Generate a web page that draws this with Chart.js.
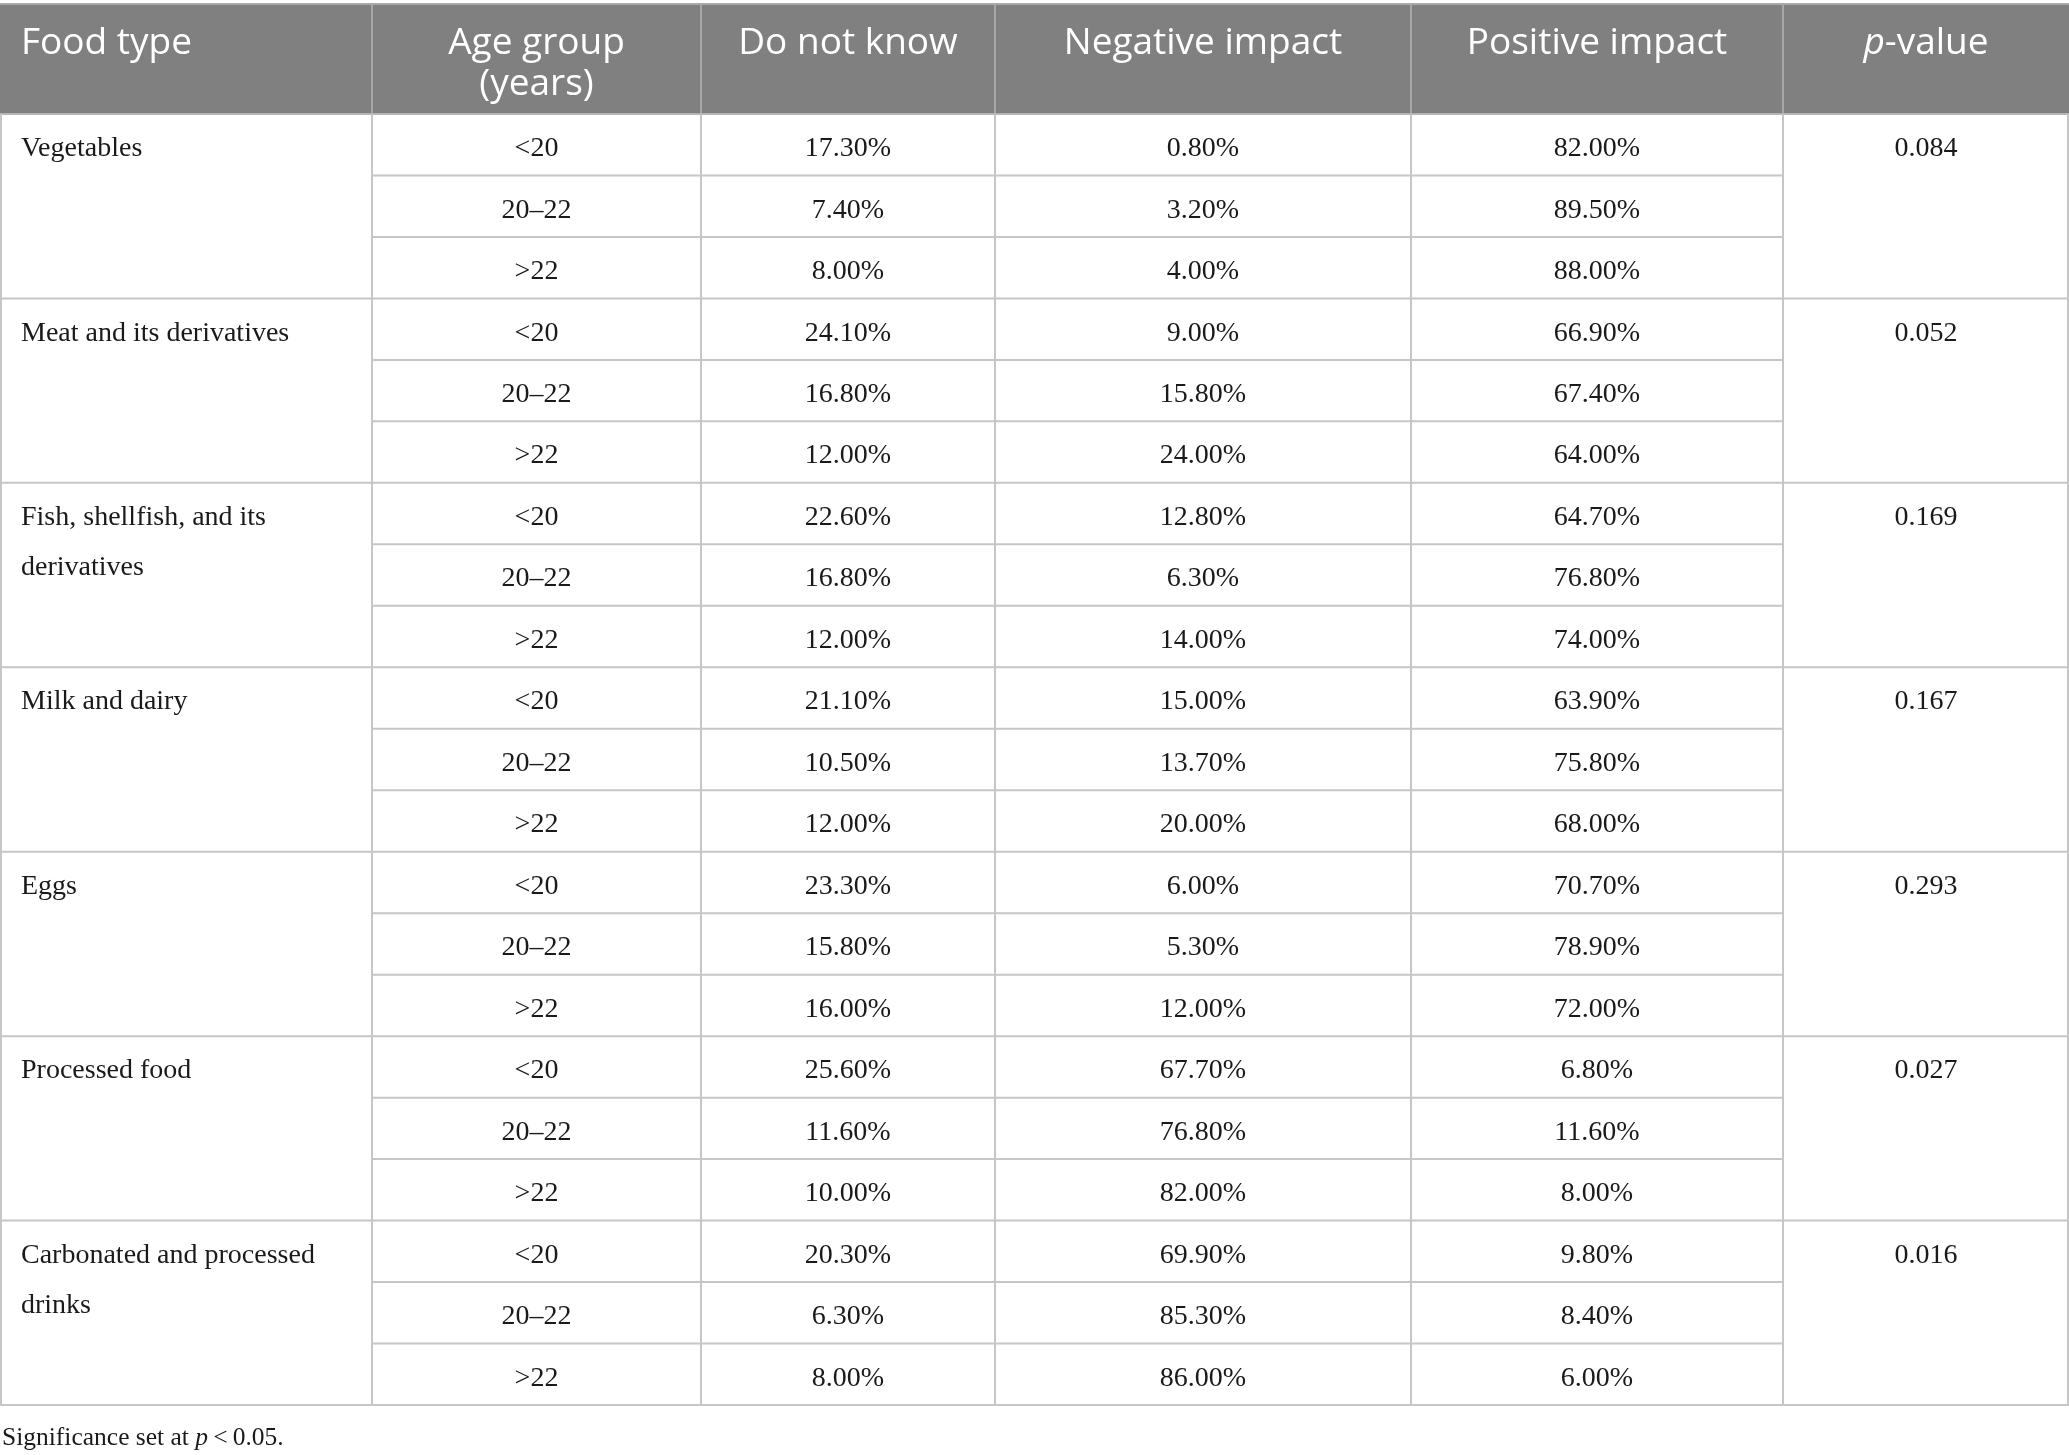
<!DOCTYPE html>
<html>
<head>
<meta charset="utf-8">
<script src="https://cdn.jsdelivr.net/npm/chart.js@4.4.1/dist/chart.umd.min.js"></script>
<style>
html,body{margin:0;padding:0;background:#fff;}
#wrap{width:2069px;height:1455px;position:relative;}
canvas{display:block;}
</style>
</head>
<body>
<div id="wrap"><canvas id="c" width="2069" height="1455"></canvas></div>
<script>
// ---------------- DATA ----------------
const headers = ['Food type', 'Age group\n(years)', 'Do not know', 'Negative impact', 'Positive impact', 'p-value'];
const foodTypes = ['Vegetables', 'Meat and its derivatives', 'Fish, shellfish, and its derivatives', 'Milk and dairy', 'Eggs', 'Processed food', 'Carbonated and processed drinks'];
const ageGroups = ['<20', '20\u201322', '>22'];
const doNotKnow = [17.3, 7.4, 8.0, 24.1, 16.8, 12.0, 22.6, 16.8, 12.0, 21.1, 10.5, 12.0, 23.3, 15.8, 16.0, 25.6, 11.6, 10.0, 20.3, 6.3, 8.0];
const negativeImpact = [0.8, 3.2, 4.0, 9.0, 15.8, 24.0, 12.8, 6.3, 14.0, 15.0, 13.7, 20.0, 6.0, 5.3, 12.0, 67.7, 76.8, 82.0, 69.9, 85.3, 86.0];
const positiveImpact = [82.0, 89.5, 88.0, 66.9, 67.4, 64.0, 64.7, 76.8, 74.0, 63.9, 75.8, 68.0, 70.7, 78.9, 72.0, 6.8, 11.6, 8.0, 9.8, 8.4, 6.0];
const pValues = [0.084, 0.052, 0.169, 0.167, 0.293, 0.027, 0.016];

// ---------------- LAYOUT ----------------
const colEdges = [0, 372, 701, 995, 1411, 1783, 2069]; // x-scale units
const Y_MIN = -1.854, Y_MAX = 21.813;                   // y-scale units (1 unit = one sub-row)
const HEADER_TOP = -1.79;
const HEADER_LINES = [-1.145, -0.475];
const TEXT_SHIFT = 0.065;
const FOOT_LINE_GAP = 0.813;
const FOOT_Y = 21.535;
const LEFT_PAD = 21;
const nRows = foodTypes.length * ageGroups.length;
const colCenter = i => (colEdges[i] + colEdges[i + 1]) / 2;

const SERIF = '"Liberation Serif", "DejaVu Serif", serif';
const SANS = '"Open Sans", "Noto Sans", sans-serif';
const BODY_FONT = '28px ' + SERIF;
const HEAD_FONT = '37px ' + SANS;
const FOOT_FONT = '25.5px ' + SERIF;

const pct = v => v.toFixed(2) + '%';

function rowPoints(col, labels) {
  return labels.map((lab, r) => ({ x: colCenter(col), y: r + 0.5 + TEXT_SHIFT, label: lab }));
}

const datasets = [
  { label: 'Food type', align: 'left',
    data: foodTypes.map((f, g) => ({ x: LEFT_PAD, y: g * 3 + 0.5 + TEXT_SHIFT, label: f })) },
  { label: 'Age group', align: 'center',
    data: rowPoints(1, Array.from({ length: nRows }, (_, r) => ageGroups[r % 3])) },
  { label: 'Do not know', align: 'center', data: rowPoints(2, doNotKnow.map(pct)) },
  { label: 'Negative impact', align: 'center', data: rowPoints(3, negativeImpact.map(pct)) },
  { label: 'Positive impact', align: 'center', data: rowPoints(4, positiveImpact.map(pct)) },
  { label: 'p-value', align: 'center',
    data: pValues.map((p, g) => ({ x: colCenter(5), y: g * 3 + 0.5 + TEXT_SHIFT, label: p.toFixed(3) })) }
].map(d => Object.assign(d, { pointRadius: 0, pointHoverRadius: 0, showLine: false }));

function wrapText(ctx, text, maxW) {
  const words = text.split(' ');
  const lines = [];
  let cur = '';
  for (const w of words) {
    const t = cur ? cur + ' ' + w : w;
    if (ctx.measureText(t).width > maxW && cur) { lines.push(cur); cur = w; }
    else cur = t;
  }
  if (cur) lines.push(cur);
  return lines;
}

const tablePlugin = {
  id: 'tablePlugin',
  beforeDatasetsDraw(chart) {
    const ctx = chart.ctx, xs = chart.scales.x, ys = chart.scales.y;
    const X = v => xs.getPixelForValue(v), Y = v => ys.getPixelForValue(v);
    ctx.save();
    // header background
    ctx.fillStyle = '#7f807f';
    ctx.fillRect(X(colEdges[0]), Y(HEADER_TOP), X(colEdges[6]) - X(colEdges[0]), Y(0) - Y(HEADER_TOP));
    // header top border
    ctx.strokeStyle = '#a9a9a9';
    ctx.lineWidth = 2;
    ctx.beginPath();
    ctx.moveTo(X(colEdges[0]), Y(HEADER_TOP)); ctx.lineTo(X(colEdges[6]), Y(HEADER_TOP));
    ctx.stroke();
    // header dividers
    ctx.strokeStyle = '#a6a7a6';
    ctx.beginPath();
    for (let i = 1; i < colEdges.length - 1; i++) {
      ctx.moveTo(X(colEdges[i]), Y(HEADER_TOP)); ctx.lineTo(X(colEdges[i]), Y(0));
    }
    ctx.stroke();
    // header bottom line
    ctx.strokeStyle = '#b5b5b5';
    ctx.beginPath();
    ctx.moveTo(X(colEdges[0]), Y(0)); ctx.lineTo(X(colEdges[6]), Y(0));
    ctx.stroke();
    // body grid
    ctx.strokeStyle = '#c6c6c6';
    ctx.lineWidth = 2;
    ctx.beginPath();
    for (let r = 1; r <= nRows; r++) {
      if (r % 3 === 0) {
        ctx.moveTo(X(colEdges[0]), Y(r)); ctx.lineTo(X(colEdges[6]), Y(r));
      } else {
        ctx.moveTo(X(colEdges[1]), Y(r)); ctx.lineTo(X(colEdges[5]), Y(r));
      }
    }
    for (let i = 0; i < colEdges.length; i++) {
      let xv = X(colEdges[i]);
      if (i === 0) xv += 1; if (i === colEdges.length - 1) xv -= 1;
      ctx.moveTo(xv, Y(0)); ctx.lineTo(xv, Y(nRows));
    }
    ctx.stroke();
    // header labels
    ctx.fillStyle = '#ffffff';
    ctx.font = HEAD_FONT;
    ctx.textBaseline = 'middle';
    headers.forEach((h, i) => {
      if (h === 'p-value') {
        ctx.font = 'italic ' + HEAD_FONT;
        const w1 = ctx.measureText('p').width;
        ctx.font = HEAD_FONT;
        const w2 = ctx.measureText('-value').width;
        const x0 = X(colCenter(i)) - (w1 + w2) / 2;
        ctx.textAlign = 'left';
        ctx.font = 'italic ' + HEAD_FONT;
        ctx.fillText('p', x0, Y(HEADER_LINES[0]));
        ctx.font = HEAD_FONT;
        ctx.fillText('-value', x0 + w1, Y(HEADER_LINES[0]));
        return;
      }
      h.split('\n').forEach((line, k) => {
        if (i === 0) { ctx.textAlign = 'left'; ctx.fillText(line, X(LEFT_PAD), Y(HEADER_LINES[k])); }
        else { ctx.textAlign = 'center'; ctx.fillText(line, X(colCenter(i)), Y(HEADER_LINES[k])); }
      });
    });
    ctx.restore();
  },
  afterDatasetsDraw(chart) {
    const ctx = chart.ctx, ys = chart.scales.y;
    const lineGap = ys.getPixelForValue(FOOT_LINE_GAP) - ys.getPixelForValue(0);
    ctx.save();
    ctx.fillStyle = '#1a1a1a';
    ctx.font = BODY_FONT;
    ctx.textBaseline = 'middle';
    chart.data.datasets.forEach((ds, di) => {
      const meta = chart.getDatasetMeta(di);
      meta.data.forEach((el, j) => {
        const label = ds.data[j].label;
        if (ds.align === 'left') {
          ctx.textAlign = 'left';
          const maxW = chart.scales.x.getPixelForValue(colEdges[1]) - el.x - 18;
          wrapText(ctx, label, maxW).forEach((ln, k) => ctx.fillText(ln, el.x, el.y + k * lineGap));
        } else {
          ctx.textAlign = 'center';
          ctx.fillText(label, el.x, el.y);
        }
      });
    });
    // footnote
    const fx = chart.scales.x.getPixelForValue(2), fy = ys.getPixelForValue(FOOT_Y);
    const parts = [['Significance set at ', false], ['p', true], ['\u2009<\u20090.05.', false]];
    let cx = fx;
    ctx.textAlign = 'left';
    parts.forEach(([t, it]) => {
      ctx.font = (it ? 'italic ' : '') + FOOT_FONT;
      ctx.fillText(t, cx, fy);
      cx += ctx.measureText(t).width;
    });
    ctx.restore();
  }
};

new Chart(document.getElementById('c'), {
  type: 'scatter',
  data: { datasets },
  options: {
    responsive: false,
    devicePixelRatio: 1,
    animation: false,
    layout: { padding: 0 },
    plugins: { legend: { display: false }, tooltip: { enabled: false } },
    events: [],
    scales: {
      x: { type: 'linear', min: colEdges[0], max: colEdges[6], display: false },
      y: { type: 'linear', reverse: true, min: Y_MIN, max: Y_MAX, display: false }
    }
  },
  plugins: [tablePlugin]
});
</script>
</body>
</html>
